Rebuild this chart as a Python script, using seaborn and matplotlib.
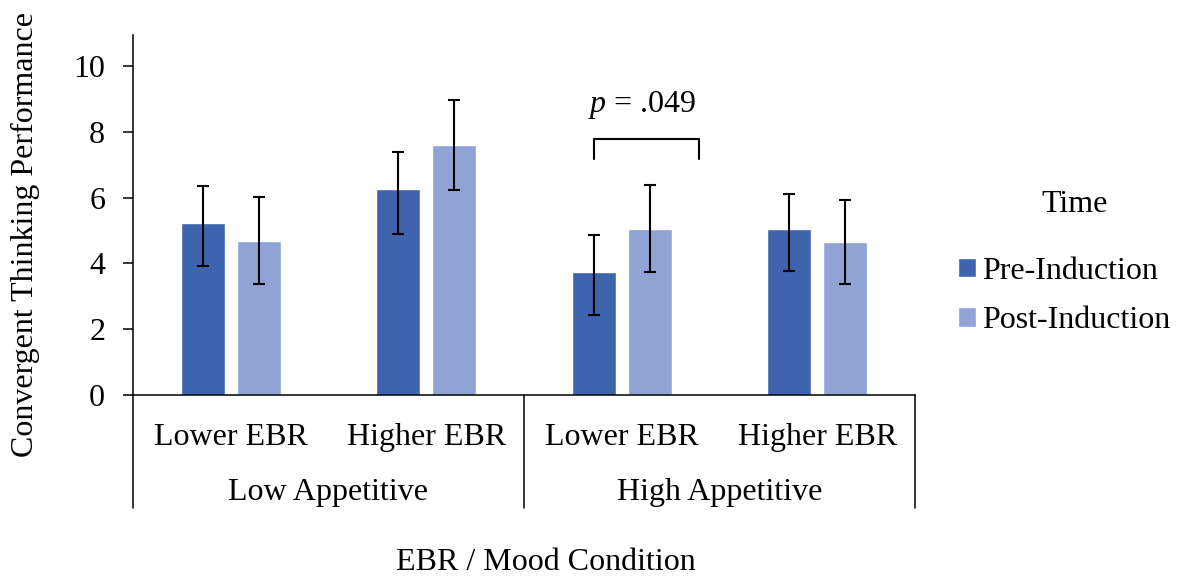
import matplotlib
matplotlib.use("Agg")
import matplotlib.pyplot as plt
import seaborn as sns
import pandas as pd
import numpy as np

# ---- data ----
mood_groups = ["Low Appetitive", "High Appetitive"]
ebr_levels = ["Lower EBR", "Higher EBR"]
times = ["Pre-Induction", "Post-Induction"]
pre_means = [5.24, 6.25, 3.75, 5.05]
post_means = [4.68, 7.59, 5.05, 4.64]
pre_err_low = [1.32, 1.35, 1.32, 1.27]
pre_err_high = [1.10, 1.14, 1.10, 1.06]
post_err_low = [1.32, 1.36, 1.31, 1.27]
post_err_high = [1.34, 1.37, 1.33, 1.30]
p_label = "$p$ = .049"
bracket_top = 7.77
bracket_bottom = 7.17
p_text_y = 8.80

cond_keys = [f"{m} | {e}" for m in mood_groups for e in ebr_levels]
cond_ebr = [e for m in mood_groups for e in ebr_levels]

df = pd.DataFrame({
    "cond": cond_keys * 2,
    "time": [times[0]] * 4 + [times[1]] * 4,
    "score": pre_means + post_means,
    "err_low": pre_err_low + post_err_low,
    "err_high": pre_err_high + post_err_high,
})

sns.set_theme(style="white")
plt.rcParams["font.family"] = ["Liberation Serif", "DejaVu Serif"]
plt.rcParams["mathtext.fontset"] = "custom"
plt.rcParams["mathtext.rm"] = "Liberation Serif"
plt.rcParams["mathtext.it"] = "Liberation Serif:italic"
for k in ["text.color", "axes.labelcolor", "xtick.color", "ytick.color"]:
    plt.rcParams[k] = "black"

FS = 23
dark = "#3E64AD"
light = "#8FA4D4"

fig = plt.figure(figsize=(11.78, 5.76), dpi=100)
ax = fig.add_axes([0.1129, 0.3142, 0.6638, 0.6250])

sns.barplot(data=df, x="cond", y="score", hue="time", order=cond_keys,
            hue_order=times, palette=[dark, light], saturation=1,
            width=0.572, gap=0.21, errorbar=None, ax=ax)

# error bars at bar centres
centers = {}
for cont, t in zip(ax.containers, times):
    sub = df[df["time"] == t].set_index("cond").loc[cond_keys]
    xs = [b.get_x() + b.get_width() / 2 for b in cont]
    centers[t] = xs
    ax.errorbar(xs, sub["score"].values,
                yerr=[sub["err_low"].values, sub["err_high"].values], fmt="none",
                ecolor="black", elinewidth=1.5, capsize=4, capthick=1.5, zorder=5)

ax.set_xlim(-0.5, 3.5)
ax.set_ylim(0, 10.94)
ax.set_yticks([0, 2, 4, 6, 8, 10])
ax.tick_params(axis="y", length=7, width=1.1, pad=13, labelsize=FS, colors="black", left=True)
ax.tick_params(axis="x", length=0, labelbottom=False)
for s in ["top", "right"]:
    ax.spines[s].set_visible(False)
for s in ["left", "bottom"]:
    ax.spines[s].set_color("black")
    ax.spines[s].set_linewidth(1.1)

ax.set_xlabel("")
ax.set_ylabel("Convergent Thinking Performance", fontsize=FS)
ax.yaxis.set_label_coords(-0.119, 0.446)

# multi-level category axis
xt = ax.get_xaxis_transform()
for i, lab in enumerate(cond_ebr):
    ax.text(i, -0.117, lab, transform=xt, ha="center", va="center", fontsize=FS)
for g, lab in enumerate(mood_groups):
    ax.text(g * 2 + 0.5, -0.270, lab, transform=xt, ha="center", va="center", fontsize=FS)
for xv in [-0.5, 1.5, 3.5]:
    ax.plot([xv, xv], [0, -0.314], transform=xt, color="black", lw=1.1, clip_on=False)

fig.text(546 / 1178, 1 - 562 / 576, "EBR / Mood Condition", ha="center", va="center", fontsize=FS)

# significance bracket (High Appetitive, Lower EBR)
x0 = centers[times[0]][2]
x1 = centers[times[1]][2] + 0.25
ax.plot([x0, x0, x1, x1], [bracket_bottom, bracket_top, bracket_top, bracket_bottom],
        color="black", lw=1.5)
ax.text((x0 + x1) / 2 - 0.02, p_text_y, p_label, ha="center", va="center", fontsize=FS)

handles, labels = ax.get_legend_handles_labels()
ax.legend(handles, labels, loc="upper left",
          bbox_to_anchor=(942 / 1178, 1 - 241 / 576), bbox_transform=fig.transFigure,
          frameon=False, fontsize=FS, borderpad=0,
          handlelength=0.56, handleheight=0.56, handletextpad=0.18, labelspacing=0.64)
fig.text(1075 / 1178, 1 - 205 / 576, "Time", ha="center", va="center", fontsize=FS)

fig.savefig("out.png", dpi=100)
